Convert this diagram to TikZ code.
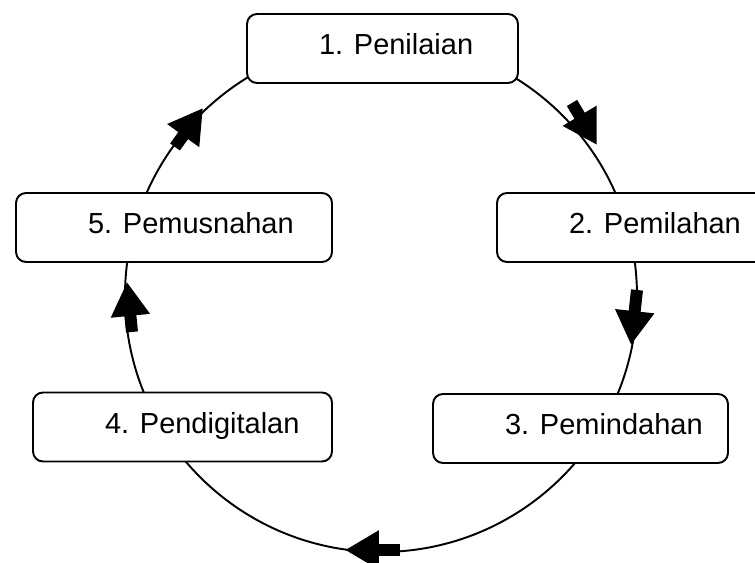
\documentclass[tikz,border=0pt]{standalone}
\usepackage{fontspec}
\setmainfont{Liberation Sans}
\usetikzlibrary{arrows.meta}

\newcommand{\stagetext}[2]{\makebox[#1][l]{\hspace{1.44cm}#2}}

\begin{document}
\begin{tikzpicture}[x=0.02cm, y=0.02cm,
        stage/.style={draw, line width=1.1pt, rounded corners=0.2cm, fill=white,
            inner xsep=0pt, minimum height=1.38cm, text height=12pt, text depth=4.6pt,
            font=\fontsize{16.5}{20}\selectfont},
        flow/.style={line width=0.24cm, -{Triangle[length=0.68cm, width=0.74cm]}}]
        % Frame
        \useasboundingbox (0, 0) rectangle (755, 563);
        \clip (0, 0) rectangle (755, 563);

        % Cycle ring
        \coordinate (hub) at (381, 267);
        \draw [line width=1.1pt] (hub) circle [radius=256];

        % Flow arrows on the ring
        \draw [flow] (572, 460) -- (597, 418);
        \draw [flow] (637, 273) -- (631, 218);
        \draw [flow] (400, 13) -- (345, 13);
        \draw [flow] (132, 231) -- (127, 281);
        \draw [flow] (175, 416) -- (203, 455);

        % Stages
        \node [stage] (penilaian) at (382.5, 514.5) {\stagetext{5.42cm}{1. Penilaian}};
        \node [stage] (pemilahan) at (632.5, 335.5) {\stagetext{5.42cm}{2. Pemilahan}};
        \node [stage] (pemindahan) at (580.5, 134.5) {\stagetext{5.9cm}{3. Pemindahan}};
        \node [stage] (pendigitalan) at (182.5, 136) {\stagetext{5.98cm}{4. Pendigitalan}};
        \node [stage] (pemusnahan) at (174, 335.5) {\stagetext{6.32cm}{5. Pemusnahan}};
\end{tikzpicture}
\end{document}
